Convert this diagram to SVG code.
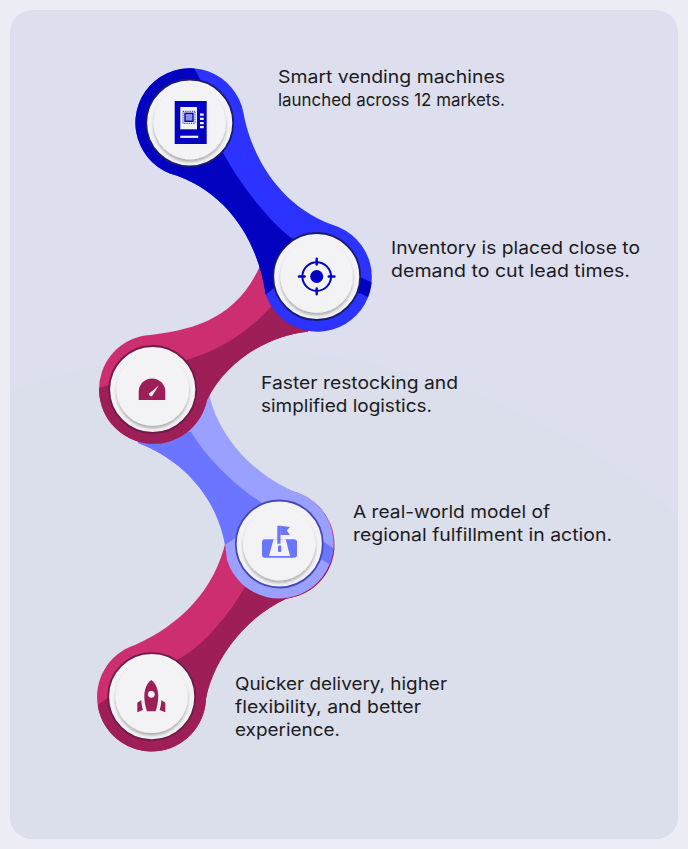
<svg xmlns="http://www.w3.org/2000/svg" width="688" height="849" viewBox="0 0 688 849">
<style>
.t{font-family:"Inter","Liberation Sans",sans-serif;font-size:17.500px;fill:#1b1b20}
.disc{fill:#f3f3f5}
.top{fill:#f3f3f5;filter:url(#sh)}
.blue{fill:#0202c0}.pink{fill:#9e1f57}.peri{fill:#6c75ff}
.wh{fill:#f3f3f5}
</style>
<defs>
<filter id="sh" x="-20%" y="-20%" width="140%" height="140%"><feDropShadow dx="0" dy="2.500" stdDeviation="1.700" flood-color="#000" flood-opacity="0.3"/></filter>
<path id="pBlue" d="M243.500 113C249 145 272 203 333 225A54.500 54.500 0 1 1 265.500 294C258 240 226 190 170 173.500A54.500 54.500 0 1 1 243.500 113Z"/>
<path id="pPink3" d="M145 335.500C190 331 236 320 260 266L316 276L308 331.700C272 335 228 358 207 400A54.500 54.500 0 1 1 145 335.500Z"/>
<path id="pPeri" d="M205 380L210 398C218 430 245 470 294 491.500A54.500 54.500 0 1 1 227 560C223 505 188 462 138 443L150 400Z"/>
<path id="pPink5" d="M226 540C215 590 180 625 135 645A54.500 54.500 0 1 0 206 699C212 665 240 620 287 598.300L300 560Z"/>
<clipPath id="cBlue"><use href="#pBlue"/></clipPath>
<clipPath id="cPink3"><use href="#pPink3"/></clipPath>
<clipPath id="cPeri"><use href="#pPeri"/></clipPath>
<clipPath id="cPink5"><use href="#pPink5"/><circle cx="280" cy="544.500" r="54.500"/></clipPath>
<clipPath id="cPanel"><rect x="10" y="10" width="668" height="829" rx="22"/></clipPath>
</defs>
<rect width="688" height="849" fill="#ebecf4"/>
<rect x="10" y="10" width="668" height="829" rx="22" fill="#dddfee"/>
<circle cx="240" cy="1010" r="660" fill="#dbdeeb" clip-path="url(#cPanel)"/>

<g id="connectors">
<g id="ribbon-pink-lower">
<use href="#pPink5" fill="#cc2e70"/><circle cx="280" cy="544.500" r="54.500" fill="#cc2e70"/>
<path clip-path="url(#cPink5)" class="pink" d="M245 586.700C232 610 205 645 180 658.300L109 696.700L98 705L90 760L220 760L345 610L345 545L300 560Z"/>
</g>
<g id="ribbon-periwinkle">
<use href="#pPeri" fill="#9aa0ff"/>
<path clip-path="url(#cPeri)" class="peri" d="M191 431.700C205 455 230 482 260 501.700L323.700 541.700L340 553L338 571L323 560L235 538L222 547L100 500L130 430Z"/>
</g>
<g id="ribbon-pink-upper">
<use href="#pPink3" fill="#cc2e70"/>
<path clip-path="url(#cPink3)" class="pink" d="M186.700 360C215 352 250 333 275 302L330 300L330 345L230 460L95 460L95 389L109 385Z"/>
</g>
<g id="ribbon-blue">
<use href="#pBlue" fill="#2c32ff"/>
<path clip-path="url(#cBlue)" class="blue" d="M191 62L200 79L223.300 153.300C235 175 262 215 290 237L359.300 276.700L375 284L372 299L360 293.300L274 288L264 296L120 260L120 60Z"/>
</g>
</g>

<g id="node-1">
<circle cx="189.700" cy="123" r="43.500" class="disc" stroke="#1a1a6e" stroke-width="1.800"/>
<circle cx="189.700" cy="123" r="36.200" class="top"/>
<rect x="174.700" y="101" width="32" height="43" class="blue"/>
<rect x="180.300" y="107" width="16.700" height="22.300" fill="#f3f3f5"/>
<rect x="183" y="111.300" width="12" height="12" fill="none" stroke="#0202c0" stroke-width="0.900" stroke-dasharray="1 0.800"/>
<rect x="185" y="113.300" width="8" height="8" fill="#8d8de0" stroke="#0202c0" stroke-width="1.400"/>
<rect x="200" y="113.500" width="3.700" height="2.200" class="wh"/><rect x="200" y="117.700" width="3.700" height="2.200" class="wh"/><rect x="200" y="122" width="3.700" height="2.200" class="wh"/><rect x="200" y="126" width="3.700" height="2.200" class="wh"/>
<rect x="180.300" y="135.700" width="18" height="2.200" class="wh"/>
<text class="t" x="278" y="83" textLength="227" lengthAdjust="spacingAndGlyphs">Smart vending machines</text>
<text class="t" x="278" y="106" textLength="227" lengthAdjust="spacingAndGlyphs">launched across 12 markets.</text>
</g>

<g id="node-2">
<circle cx="316.700" cy="276.500" r="43.500" class="disc" stroke="#1a1a6e" stroke-width="1.800"/>
<circle cx="316.700" cy="276.500" r="36.200" class="top"/>
<circle cx="316.700" cy="276.500" r="14.300" fill="none" stroke="#0202c0" stroke-width="2"/>
<circle cx="316.700" cy="276.500" r="6.500" class="blue"/>
<path d="M316.700 258.700V264.500M316.700 288.500V294.300M298.900 276.500H304.700M328.700 276.500H334.500" stroke="#0202c0" stroke-width="2.400" stroke-linecap="round" fill="none"/>
<text class="t" x="391" y="254" textLength="249" lengthAdjust="spacingAndGlyphs">Inventory is placed close to</text>
<text class="t" x="391" y="277" textLength="239" lengthAdjust="spacingAndGlyphs">demand to cut lead times.</text>
</g>

<g id="node-3">
<circle cx="152.700" cy="389.500" r="43.500" class="disc" stroke="#6e1b48" stroke-width="1.800"/>
<circle cx="152.700" cy="389.500" r="36.200" class="top"/>
<path class="pink" d="M138.700 400V391.700A13.300 13.300 0 0 1 165.300 391.700V400Z"/>
<path class="wh" d="M158.800 385.400L152.400 395.400A1.700 1.700 0 0 1 149.400 393.200Z"/>
<text class="t" x="261" y="389" textLength="197" lengthAdjust="spacingAndGlyphs">Faster restocking and</text>
<text class="t" x="261" y="412" textLength="171" lengthAdjust="spacingAndGlyphs">simplified logistics.</text>
</g>

<g id="node-4">
<circle cx="279.300" cy="544" r="43.500" class="disc" stroke="#4549b8" stroke-width="1.800"/>
<circle cx="279.300" cy="544" r="36.200" class="top"/>
<rect x="262" y="539.300" width="35" height="18.500" rx="3" class="peri"/>
<path class="wh" d="M273.500 539.300H285.700L290 556H269Z"/>
<rect x="277.300" y="525.700" width="3.200" height="18" class="peri"/>
<path class="peri" d="M280.300 525.700L290 527L286.700 530.500L290 535H280.300Z"/>
<rect x="278" y="545.500" width="3.300" height="6.500" rx="1" class="peri"/>
<text class="t" x="353" y="518" textLength="197" lengthAdjust="spacingAndGlyphs">A real-world model of</text>
<text class="t" x="353" y="541" textLength="259" lengthAdjust="spacingAndGlyphs">regional fulfillment in action.</text>
</g>

<g id="node-5">
<circle cx="151.700" cy="696.700" r="43.500" class="disc" stroke="#6e1b48" stroke-width="1.800"/>
<circle cx="151.700" cy="696.700" r="36.200" class="top"/>
<path class="pink" d="M151.300 680C147 683 144.300 689 144.300 696C144.300 702 145.500 707 147 711.300H155.700C157 707 158.200 702 158.200 696C158.200 689 155.500 683 151.300 680Z"/>
<circle cx="151.300" cy="694.300" r="3.400" class="wh"/>
<path class="pink" d="M141.300 700L137.300 702.700V712.300L143 710C142 707 141.400 704 141.300 700Z"/>
<path class="pink" d="M161.300 700L165.300 702.700V712.300L159.600 710C160.600 707 161.200 704 161.300 700Z"/>
<text class="t" x="235" y="690" textLength="212" lengthAdjust="spacingAndGlyphs">Quicker delivery, higher</text>
<text class="t" x="235" y="713" textLength="186" lengthAdjust="spacingAndGlyphs">flexibility, and better</text>
<text class="t" x="235" y="736" textLength="105" lengthAdjust="spacingAndGlyphs">experience.</text>
</g>
</svg>
